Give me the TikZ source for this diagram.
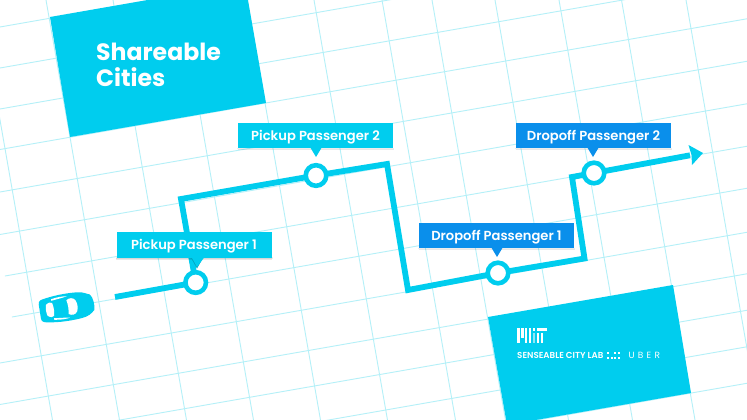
\documentclass[tikz,border=0pt]{standalone}
\usepackage{fontspec}
\setmainfont{Poppins}
\newfontfamily\medfont{Poppins SemiBold}
\definecolor{cy}{HTML}{00CDEE}
\definecolor{bl}{HTML}{0A8FEB}
\definecolor{gridc}{HTML}{B4F0F8}
\definecolor{lightbar}{HTML}{8FE6F6}
\tikzset{
  x=1pt,y=-1pt,
  gridline/.style={draw=gridc,line width=0.9pt},
  panel/.style={fill=cy,draw=none},
  route/.style={draw=cy,line width=5.8pt,miter limit=10},
  stop/.style={circle,draw=cy,fill=white,line width=4.6pt,minimum size=20.6pt,inner sep=0pt},
  tagbox/.style={minimum width=155pt,minimum height=25.5pt,inner sep=0pt,text=white,font=\medfont\fontsize{13.1}{14}\selectfont},
  tagcy/.style={tagbox,fill=cy},
  tagbl/.style={tagbox,fill=bl},
}
\newcommand{\tagshadow}[2]{%
  \fill[black,opacity=.07] ([xshift=-.5pt,yshift=-1pt]#1.south west) rectangle ([xshift=1pt,yshift=.5pt]#1.south east);
  \fill[black,opacity=.09] ([yshift=-2pt]#1.south west) rectangle ([xshift=.5pt,yshift=-.3pt]#1.south east);
}
\newcommand{\taglabel}[1]{\raisebox{-4.5pt}[0pt][0pt]{#1}}
\begin{document}
\begin{tikzpicture}
\useasboundingbox (0,0) rectangle (747,420);
\clip (0,0) rectangle (747,420);
\fill[white] (0,0) rectangle (747,420);
% grid
\foreach \g in {-21,46,113,180,247,314,382,432,495,559,621.5,686}
  \draw[gridline] ({\g-3.5},-20) -- ({\g+77},440);
\foreach \g in {27,68,109,149.5,192,234.5,363,404.5,441,477.5,514}
  \draw[gridline] (-10,{\g+1.75}) -- (760,{\g-133});
\draw[gridline] (5,276) -- (760,{277-133});
\draw[gridline] (12,317) -- (760,{319-133});
% panels
\fill[panel] (50,17) -- (70,137) -- (266,103) -- (245,-17) -- cycle;
\fill[panel] (488,317) -- (507,425) -- (691,393) -- (673,285) -- cycle;
\node[anchor=base west,inner sep=0pt,text=white,font=\bfseries\fontsize{23.6}{26}\selectfont] (t1) at (96,60) {Shareable};
\node[anchor=base west,inner sep=0pt,text=white,font=\bfseries\fontsize{23.6}{26}\selectfont] (t2) at (96,87) {Cities};
% route
\coordinate (start) at (115,297);
\coordinate (c1) at (181,199);
\coordinate (c2) at (387,164);
\coordinate (c3) at (408,290);
\coordinate (c4) at (584.5,258.5);
\coordinate (c5) at (572,177);
\coordinate (tip) at (703,153);
\coordinate (headbase) at (690,155.3);
\coordinate (a1) at (195.7,282.5);
\coordinate (a2) at (316,175.5);
\coordinate (a3) at (498,273);
\coordinate (a4) at (594,173);
\draw[route] (start) -- (a1) -- (c1) -- (a2) -- (c2) -- (c3) -- (a3) -- (c4) -- (c5) -- (a4) -- (headbase);
\fill[cy] (tip) -- (688.5,145) -- (691.5,155) -- (692,165) -- cycle;
\node[stop] (p1) at (a1) {};
\node[stop] (p2) at (a2) {};
\node[stop] (p3) at (a3) {};
\node[stop] (p4) at (a4) {};
% tags
\node[tagcy,opacity=0] (l1) at (194,245) {};
\node[tagcy,opacity=0] (l2) at (315.5,135.5) {};
\node[tagbl,opacity=0] (l3) at (496.5,235.5) {};
\node[tagbl,opacity=0] (l4) at (593.5,135.5) {};
\tagshadow{l1}{}\tagshadow{l2}{}\tagshadow{l3}{}\tagshadow{l4}{}
\fill[cy!80!black] (190.5,257) -- (197,268.5) -- (203.5,257) -- cycle;
\fill[cy] (191.5,257) -- (197,267) -- (204.5,257) -- cycle;
\fill[cy] (310,147) -- (316,157) -- (322,147) -- cycle;
\fill[bl] (491,247) -- (497,257) -- (503,247) -- cycle;
\fill[bl] (587,147) -- (593,157) -- (599,147) -- cycle;
\node[tagcy] at (l1) {\taglabel{Pickup Passenger 1}};
\node[tagcy] at (l2) {\taglabel{Pickup Passenger 2}};
\node[tagbl] at (l3) {\taglabel{Dropoff Passenger 1}};
\node[tagbl] at (l4) {\taglabel{Dropoff Passenger 2}};
% car
\begin{scope}[shift={(66.5,307.3)},rotate=9]
  \fill[cy] (-27,-7) .. controls (-27,-11) and (-24,-11.5) .. (-20,-12)
    .. controls (-8,-14) and (6,-14) .. (14,-13)
    .. controls (19,-12.5) and (22,-10) .. (25,-9)
    .. controls (28,-6) and (28.5,3) .. (27,7)
    .. controls (24,10) and (20,12.5) .. (14,13)
    .. controls (4,14) and (-10,14) .. (-20,12)
    .. controls (-24,11.5) and (-27,11) .. (-27,7) -- cycle;
  \fill[white] (-20,-5.5) .. controls (-17,-8) and (-15,-7.5) .. (-13.5,-6.5) .. controls (-12.5,-2) and (-12.5,2) .. (-13.5,6.5) .. controls (-15,7.5) and (-17,8) .. (-20,5.5) .. controls (-21,2) and (-21,-2) .. (-20,-5.5) -- cycle;
  \fill[white] (1,-7) .. controls (4,-9) and (8,-9) .. (10,-5.5) .. controls (11.5,-2) and (11.5,2) .. (10,5.5) .. controls (8,9) and (4,9) .. (1,7) .. controls (2,2) and (2,-2) .. (1,-7) -- cycle;
  \fill[white] (-14,-10.4) .. controls (-8,-11.6) and (-2,-11.6) .. (2,-10.8) .. controls (-3,-9.8) and (-8,-9.6) .. (-14,-8.8) -- cycle;
  \fill[white] (-14,10.4) .. controls (-8,11.6) and (-2,11.6) .. (2,10.8) .. controls (-3,9.8) and (-8,9.6) .. (-14,8.8) -- cycle;
\end{scope}
% MIT logo
\fill[white] (517.3,328) rectangle (519.9,343);
\fill[white] (521.3,328) rectangle (523.5,338);
\fill[white] (525,328) rectangle (527.4,343);
\fill[white] (528.7,328) rectangle (531,343);
\fill[white] (533,328) rectangle (535.2,331);
\fill[lightbar] (533,333) rectangle (535.2,343);
\fill[white] (536.5,328) rectangle (547,331);
\fill[white] (537,333) rectangle (539.2,343);
\fill[white] (541,333) rectangle (543.2,343);
% lab line
\node[anchor=base west,inner sep=0pt,text=white,font=\medfont\fontsize{8.7}{9}\selectfont] (lab) at (517,358) {SENSEABLE CITY LAB};
\foreach \dx/\dy in {607/353.5,607/358.5,611/358.5,614/353.5,614/358.5,618/353.5,618/358.5}
  \fill[white] (\dx,\dy) rectangle +(1.7,-1.7);
\node[anchor=base west,inner sep=0pt,text=white,font=\fontsize{9}{10}\selectfont] (uber) at (628.5,358.5) {U\kern3.2pt B\kern3.2pt E\kern3.2pt R};
\end{tikzpicture}
\end{document}
